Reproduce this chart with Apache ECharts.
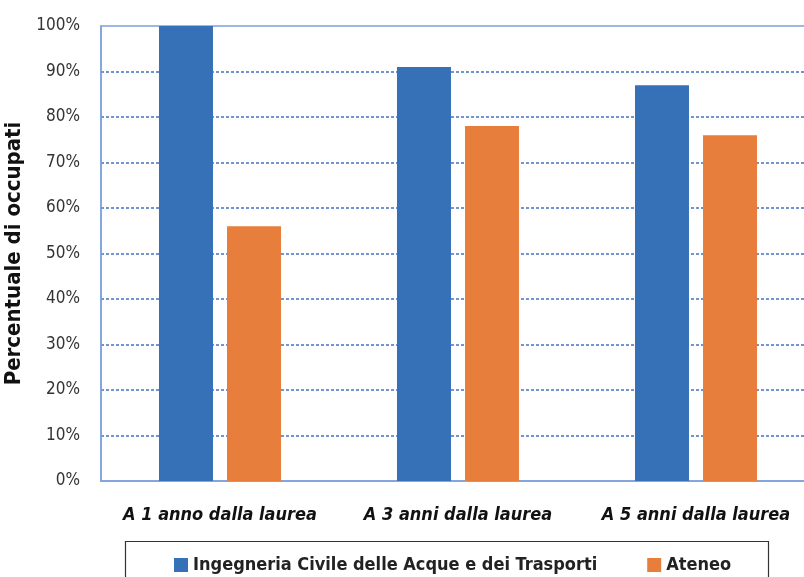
<!DOCTYPE html>
<html>
<head>
<meta charset="utf-8">
<script src="https://cdn.jsdelivr.net/npm/echarts@6/dist/echarts.min.js"></script>
<style>
html,body{margin:0;padding:0;background:#fff;}
#main{width:804px;height:577px;}
</style>
</head>
<body>
<div id="main"></div>
<script>
// categorie e valori (percentuale di occupati)
var categorie = ['A 1 anno dalla laurea', 'A 3 anni dalla laurea', 'A 5 anni dalla laurea'];
var corso = [100, 91, 87];
var ateneo = [56, 78, 76];
var nomiSerie = ['Ingegneria Civile delle Acque e dei Trasporti', 'Ateneo'];

var font = '"DejaVu Sans Condensed", "Liberation Sans Narrow", sans-serif';

var myChart = echarts.init(document.getElementById('main'));
var option = {
    animation: false,
    backgroundColor: '#fff',
    grid: {
        left: 101,
        top: 26,
        width: 714,
        height: 455,
        outerBoundsMode: 'none',
        containLabel: false,
        show: true,
        borderColor: '#7FA0DA',
        borderWidth: 1.5,
        backgroundColor: 'transparent'
    },
    legend: {
        data: nomiSerie,
        left: 169,
        top: 551,
        orient: 'horizontal',
        icon: 'rect',
        itemWidth: 14,
        itemHeight: 14,
        itemGap: 50,
        textStyle: {
            fontFamily: font,
            fontSize: 18,
            fontWeight: 'bold',
            color: '#222'
        }
    },
    graphic: [{
        type: 'rect',
        shape: { x: 125.5, y: 541.5, width: 643, height: 60 },
        style: { fill: 'none', stroke: '#333', lineWidth: 1.2 },
        z: 1
    }],
    xAxis: {
        type: 'category',
        data: categorie,
        axisLine: { show: true, lineStyle: { color: '#7FA0DA', width: 1.5 } },
        axisTick: { show: false },
        axisLabel: {
            interval: 0,
            margin: 25,
            fontFamily: font,
            fontSize: 18,
            fontStyle: 'italic',
            fontWeight: 'bold',
            color: '#111'
        }
    },
    yAxis: {
        type: 'value',
        min: 0,
        max: 100,
        interval: 10,
        name: 'Percentuale di occupati',
        nameLocation: 'middle',
        nameGap: 62,
        nameTextStyle: {
            fontFamily: font,
            fontSize: 22,
            fontWeight: 'bold',
            color: '#111'
        },
        axisLine: { show: true, lineStyle: { color: '#7FA0DA', width: 1.5 } },
        axisTick: { show: false },
        axisLabel: {
            margin: 21,
            fontFamily: font,
            fontSize: 17,
            color: '#333',
            formatter: '{value}%'
        },
        splitLine: {
            show: true,
            showMinLine: false,
            showMaxLine: false,
            lineStyle: { color: '#4472C4', type: [3, 2], width: 1.5 }
        }
    },
    series: [{
        name: nomiSerie[0],
        type: 'bar',
        data: corso,
        barWidth: 54,
        barGap: '26%',
        itemStyle: { color: '#3670B6' }
    }, {
        name: nomiSerie[1],
        type: 'bar',
        data: ateneo,
        barWidth: 54,
        itemStyle: { color: '#E77E3C' }
    }]
};
myChart.setOption(option);
</script>
</body>
</html>
